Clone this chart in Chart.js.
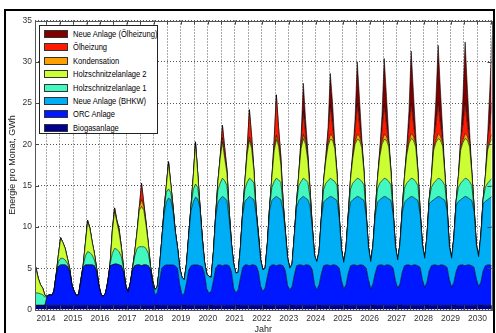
<!DOCTYPE html>
<html>
<head>
<meta charset="utf-8">
<script src="https://cdn.jsdelivr.net/npm/chart.js@4.4.1/dist/chart.umd.min.js"></script>
<style>
  body { margin: 0; background: #fff; }
  #wrap { position: relative; width: 496px; height: 333px; overflow: hidden; }
  #chart { position: absolute; left: 0; top: 0; }
  #frame { position: absolute; left: 4px; top: 9px; width: 491px; height: 340px;
           box-sizing: border-box; border: 2px solid #000; pointer-events: none; }
  #legend { position: absolute; left: 39px; top: 25px; width: 119px; height: 109px;
            box-sizing: border-box; border: 1px solid #222; background: #fff;
            font: 9px "Liberation Sans", Arial, sans-serif; color: #000; }
  .row { position: absolute; left: 4px; height: 10px; line-height: 10px; white-space: nowrap; }
  .sw { position: absolute; left: 0; top: 1px; width: 24px; height: 8px; box-sizing: border-box; border: 1px solid #333; }
  .lb { position: absolute; left: 29px; top: 0; transform: scaleX(0.84); transform-origin: 0 50%; }
</style>
</head>
<body>
<div id="wrap">
  <canvas id="chart" width="496" height="333"></canvas>
  <div id="legend"></div>
  <div id="frame"></div>
</div>
<script>
(function () {
    "use strict";

    // Monthly values, GWh. First month is July 2013, last is July 2030.
    var firstYear = 2013, firstMonth = 6;
    var years = [2014, 2015, 2016, 2017, 2018, 2019, 2020, 2021, 2022, 2023, 2024, 2025, 2026, 2027, 2028, 2029, 2030];

    var biogas = [
        0.5, 0.5, 0.5, 0.5, 0.5, 0.5,
        0.5, 0.5, 0.5, 0.5, 0.5, 0.5, 0.5, 0.5, 0.5, 0.5, 0.5, 0.5,
        0.5, 0.5, 0.5, 0.5, 0.5, 0.5, 0.5, 0.5, 0.5, 0.5, 0.5, 0.5,
        0.5, 0.5, 0.5, 0.5, 0.5, 0.5, 0.5, 0.5, 0.5, 0.5, 0.5, 0.5,
        0.5, 0.5, 0.5, 0.5, 0.5, 0.5, 0.5, 0.5, 0.5, 0.5, 0.5, 0.5,
        0.5, 0.6, 0.5, 0.5, 0.5, 0.5, 0.5, 0.5, 0.5, 0.5, 0.5, 0.5,
        0.5, 0.6, 0.5, 0.5, 0.5, 0.5, 0.5, 0.5, 0.5, 0.5, 0.5, 0.5,
        0.5, 0.6, 0.5, 0.5, 0.5, 0.5, 0.5, 0.5, 0.5, 0.5, 0.5, 0.5,
        0.5, 0.6, 0.5, 0.5, 0.5, 0.5, 0.5, 0.5, 0.5, 0.5, 0.5, 0.5,
        0.5, 0.6, 0.5, 0.5, 0.5, 0.5, 0.5, 0.5, 0.5, 0.5, 0.5, 0.5,
        0.5, 0.6, 0.5, 0.5, 0.5, 0.5, 0.5, 0.5, 0.5, 0.5, 0.5, 0.5,
        0.5, 0.6, 0.5, 0.5, 0.5, 0.5, 0.5, 0.5, 0.5, 0.5, 0.5, 0.5,
        0.5, 0.6, 0.5, 0.5, 0.5, 0.5, 0.5, 0.5, 0.5, 0.5, 0.5, 0.5,
        0.5, 0.6, 0.5, 0.5, 0.5, 0.5, 0.5, 0.5, 0.5, 0.5, 0.5, 0.5,
        0.5, 0.6, 0.5, 0.5, 0.5, 0.5, 0.5, 0.5, 0.5, 0.5, 0.5, 0.5,
        0.5, 0.6, 0.5, 0.5, 0.5, 0.5, 0.5, 0.5, 0.5, 0.5, 0.5, 0.5,
        0.5, 0.6, 0.5, 0.5, 0.5, 0.5, 0.5, 0.5, 0.5, 0.5, 0.5, 0.5,
        0.5, 0.6, 0.5, 0.5, 0.5, 0.5, 0.5
    ];
    var orc = [
        0, 0, 0, 0, 0, 0,
        1.1, 1.3, 1.2, 1.7, 3.7, 4.7, 4.9, 4.9, 4.9, 4.7, 4.1, 2.5,
        1.7, 1.2, 1.3, 2.9, 4.6, 4.9, 4.9, 4.9, 4.9, 4.8, 4.1, 2.4,
        1.3, 1.1, 1.5, 2.9, 4.8, 4.9, 5.0, 5.0, 4.9, 4.8, 4.0, 2.3,
        1.6, 2.7, 4.3, 4.8, 4.9, 4.9, 4.8, 4.9, 4.9, 4.8, 4.3, 2.5,
        1.3, 1.4, 3.0, 4.5, 4.8, 4.9, 4.9, 4.9, 4.9, 4.8, 4.5, 2.5,
        1.3, 1.3, 2.7, 4.3, 4.8, 4.9, 4.9, 4.9, 4.8, 4.7, 3.9, 2.0,
        1.5, 1.6, 3.0, 4.5, 4.9, 4.9, 4.8, 4.9, 4.9, 4.8, 4.1, 2.1,
        1.5, 1.8, 3.3, 4.6, 4.9, 4.9, 4.8, 4.9, 4.9, 4.8, 4.1, 2.3,
        1.7, 2.0, 3.5, 4.7, 4.9, 4.9, 4.8, 4.9, 4.9, 4.8, 4.2, 2.4,
        1.9, 2.2, 3.7, 4.8, 4.9, 4.9, 4.8, 4.9, 4.9, 4.8, 4.3, 2.5,
        1.9, 2.4, 3.8, 4.8, 4.9, 4.9, 4.8, 4.9, 4.9, 4.8, 4.5, 3.0,
        2.0, 2.4, 3.9, 4.8, 4.9, 4.9, 4.8, 4.9, 4.9, 4.8, 4.5, 3.1,
        2.0, 2.5, 3.9, 4.8, 4.9, 4.9, 4.8, 4.9, 4.9, 4.8, 4.5, 3.0,
        2.1, 2.5, 4.0, 4.8, 4.9, 4.9, 4.8, 4.9, 4.9, 4.8, 4.6, 3.1,
        2.2, 2.7, 4.2, 4.8, 4.9, 4.9, 4.8, 4.9, 4.9, 4.8, 4.6, 3.1,
        2.2, 2.7, 4.1, 4.8, 4.9, 4.9, 4.8, 4.9, 4.9, 4.8, 4.6, 3.2,
        2.3, 2.7, 4.2, 4.8, 4.9, 4.9, 4.8
    ];
    var bhkw = [
        0, 0, 0, 0, 0, 0,
        0, 0, 0, 0, 0, 0, 0, 0, 0, 0, 0, 0,
        0, 0, 0, 0, 0, 0, 0, 0, 0, 0, 0, 0,
        0, 0, 0, 0, 0, 0, 0, 0, 0, 0, 0, 0,
        0, 0, 0, 0, 0, 0, 0, 0, 0, 0, 0, 0,
        0.6, 0.8, 1.7, 3.4, 6.2, 7.6, 8.1, 7.9, 6.6, 4.1, 2.5, 2.0,
        2.1, 1.7, 2.3, 4.2, 6.7, 7.6, 8.2, 8.0, 7.0, 3.4, 1.4, 1.8,
        2.0, 1.7, 3.5, 6.2, 7.6, 8.0, 8.4, 8.1, 7.8, 5.7, 3.4, 2.9,
        2.4, 2.1, 3.7, 6.4, 7.7, 8.0, 8.4, 8.1, 7.9, 6.3, 4.2, 3.2,
        2.6, 2.4, 4.0, 6.8, 7.8, 8.1, 8.4, 8.1, 7.9, 6.7, 4.6, 3.3,
        2.6, 2.7, 4.8, 7.1, 7.8, 8.1, 8.4, 8.1, 7.9, 7.2, 5.0, 3.5,
        3.4, 4.0, 6.7, 7.7, 7.9, 8.1, 8.4, 8.2, 8.0, 7.9, 6.0, 3.7,
        3.2, 4.5, 6.8, 7.7, 7.9, 8.1, 8.4, 8.2, 8.0, 7.9, 6.3, 3.9,
        3.3, 4.7, 7.0, 7.7, 7.9, 8.1, 8.4, 8.2, 8.0, 7.9, 6.5, 4.1,
        3.4, 4.8, 7.2, 7.7, 7.9, 8.1, 8.4, 8.2, 8.0, 7.9, 6.4, 4.2,
        3.5, 5.5, 8.1, 7.8, 7.9, 8.1, 8.4, 8.2, 8.0, 7.9, 6.9, 4.0,
        3.5, 5.4, 8.0, 7.8, 7.9, 8.1, 8.4, 8.2, 8.0, 7.9, 6.8, 4.1,
        3.6, 5.6, 8.1, 7.8, 7.9, 8.1, 8.4
    ];
    var holz1 = [
        1.5, 1.5, 1.5, 1.4, 1.3, 1.0,
        0, 0, 0, 0, 0, 0.6, 0.8, 0.8, 0.6, 0.4, 0.2, 0,
        0, 0, 0, 0.2, 0.2, 1.1, 1.6, 1.5, 1.2, 0.7, 0.4, 0,
        0, 0, 0, 0, 0.2, 1.4, 1.9, 1.8, 1.6, 1.1, 0.5, 0,
        0, 0, 0.2, 1.2, 2.0, 2.2, 2.3, 2.2, 2.0, 1.5, 0.4, 0.4,
        0, 0, 0, 0, 0.5, 1.2, 1.1, 0.9, 0.3, 0, 0, 0,
        0, 0, 0, 0, 0.5, 1.5, 1.6, 1.4, 0.2, 0.1, 0, 0,
        0, 0, 0, 0.3, 1.5, 1.9, 2.2, 2.1, 1.8, 0.8, 0, 0,
        0, 0, 0, 0.3, 1.5, 2.0, 2.2, 2.2, 2.0, 0.4, 0.2, 0,
        0, 0, 0, 0.5, 1.6, 2.0, 2.2, 2.2, 2.1, 0.6, 0, 0,
        0, 0, 0, 0.6, 1.8, 2.0, 2.2, 2.2, 2.1, 1.0, 0, 0,
        0, 0, 0, 1.5, 2.0, 2.1, 2.2, 2.1, 2.1, 1.8, 0, 0,
        0, 0, 0.3, 1.6, 2.0, 2.1, 2.2, 2.2, 2.1, 1.9, 0, 0,
        0, 0, 0.4, 1.6, 2.0, 2.1, 2.2, 2.2, 2.1, 1.9, 0.1, 0,
        0, 0, 0.4, 1.7, 2.0, 2.1, 2.2, 2.2, 2.1, 1.8, 0.1, 0,
        0, 0, 0.5, 1.7, 2.0, 2.1, 2.2, 2.2, 2.1, 1.8, 0.1, 0,
        0, 0, 0.5, 1.7, 2.0, 2.1, 2.2, 2.2, 2.1, 1.8, 0.2, 0,
        0, 0, 0.5, 1.7, 2.0, 2.1, 2.2
    ];
    var holz2 = [
        3.3, 2.9, 1.8, 1.1, 0.8, 0.2,
        0, 0, 0, 0, 0, 0.8, 2.4, 1.9, 1.4, 0.6, 0.2, 0,
        0, 0, 0, 0, 0, 1.5, 3.6, 2.9, 1.6, 0.8, 0, 0,
        0, 0, 0, 0, 0, 2.6, 4.5, 3.3, 2.3, 1.1, 0, 0,
        0, 0, 0, 0.5, 2.0, 4.4, 4.9, 4.4, 2.8, 1.2, 0, 0,
        0, 0, 0, 0, 0, 0.7, 3.1, 1.0, 0.2, 0.1, 0, 0,
        0, 0, 0, 0, 0, 1.5, 4.9, 1.7, 0, 0.1, 0, 0,
        0, 0, 0, 0, 1.0, 3.0, 4.4, 2.7, 1.5, 0.2, 0, 0,
        0, 0, 0, 0, 0.9, 3.4, 4.6, 3.8, 1.5, 0, 0.2, 0,
        0, 0, 0, 0, 1.2, 3.7, 4.7, 4.1, 2.1, 0.4, 0.2, 0,
        0, 0, 0, 0, 1.5, 4.0, 4.8, 4.3, 2.6, 0.8, 0.2, 0,
        0, 0, 0, 1.0, 2.7, 4.2, 4.7, 4.8, 4.0, 1.3, 0.2, 0,
        0, 0, 0, 1.2, 3.0, 4.4, 4.7, 4.7, 4.1, 1.5, 0.2, 0,
        0, 0, 0, 1.2, 3.2, 4.4, 4.7, 4.7, 4.2, 1.5, 0.2, 0,
        0, 0, 0, 1.3, 3.4, 4.5, 4.8, 4.7, 4.2, 1.6, 0.3, 0,
        0, 0, 0, 1.2, 4.0, 4.6, 4.8, 4.7, 4.3, 1.3, 0.3, 0,
        0, 0, 0, 1.3, 4.0, 4.6, 4.8, 4.7, 4.2, 1.4, 0.3, 0,
        0, 0, 0, 1.3, 4.0, 4.6, 4.8
    ];
    var kondensation = [
        0.4, 0.2, 0, 0, 0, 0,
        0, 0, 0, 0, 0, 0, 0.1, 0, 0, 0, 0, 0,
        0, 0, 0, 0, 0, 0, 0.2, 0.1, 0, 0, 0, 0,
        0, 0, 0, 0, 0, 0.2, 0.4, 0.2, 0.3, 0.1, 0, 0,
        0, 0, 0, 0, 0, 0.4, 0.8, 0.5, 0.3, 0, 0, 0,
        0, 0, 0, 0, 0, 0, 0.2, 0, 0, 0, 0, 0,
        0, 0, 0, 0, 0, 0, 0.2, 0, 0, 0, 0, 0,
        0, 0, 0, 0, 0, 0.2, 0.5, 0.3, 0.3, 0, 0, 0,
        0, 0, 0, 0, 0, 0.3, 0.4, 0.3, 0.1, 0, 0, 0,
        0, 0, 0, 0, 0, 0.3, 0.5, 0.3, 0.3, 0, 0, 0,
        0, 0, 0, 0, 0, 0.3, 0.5, 0.4, 0.3, 0.2, 0, 0,
        0, 0, 0, 0, 0.1, 0.3, 0.6, 0.5, 0.3, 0.2, 0, 0,
        0, 0, 0, 0, 0.2, 0.3, 0.6, 0.5, 0.4, 0.2, 0, 0,
        0, 0, 0, 0, 0.2, 0.3, 0.6, 0.5, 0.4, 0.2, 0, 0,
        0, 0, 0, 0, 0.2, 0.3, 0.6, 0.5, 0.4, 0.2, 0, 0,
        0, 0, 0, 0, 0.3, 0.3, 0.6, 0.5, 0.4, 0.2, 0, 0,
        0, 0, 0, 0, 0.3, 0.3, 0.6, 0.5, 0.4, 0.2, 0, 0,
        0, 0, 0, 0, 0.3, 0.3, 0.6
    ];
    var oelheizung = [
        0, 0, 0, 0, 0, 0,
        0, 0, 0, 0, 0, 0, 0, 0, 0, 0, 0, 0,
        0, 0, 0, 0, 0, 0, 0, 0, 0, 0, 0, 0,
        0, 0, 0, 0, 0, 0, 0, 0, 0.2, 0, 0, 0,
        0, 0, 0, 0, 0, 0, 2.0, 0.4, 0.1, 0, 0, 0,
        0, 0, 0, 0, 0, 0, 0, 0, 0, 0, 0, 0,
        0, 0, 0, 0, 0, 0, 0, 0, 0, 0, 0, 0,
        0, 0, 0, 0, 0, 0, 1.5, 1.0, 0.2, 0, 0, 0,
        0, 0, 0, 0, 0, 0.4, 3.3, 1.2, 0.1, 0, 0, 0,
        0, 0, 0, 0, 0, 1.0, 4.9, 1.9, 0.7, 0, 0, 0,
        0, 0, 0, 0, 0, 0.8, 2.8, 0.9, 0.3, 0, 0, 0,
        0, 0, 0, 0, 0.4, 1.3, 3.6, 1.3, 0.1, 0, 0, 0,
        0, 0, 0, 0, 0.5, 1.4, 3.8, 1.4, 0.2, 0, 0, 0,
        0, 0, 0, 0, 0.5, 1.5, 3.6, 1.4, 0.2, 0, 0, 0,
        0, 0, 0, 0, 0.6, 1.6, 3.7, 1.5, 0.2, 0, 0, 0,
        0, 0, 0, 0, 1.1, 1.8, 3.8, 1.5, 0.3, 0, 0, 0,
        0, 0, 0, 0, 1.0, 1.8, 3.7, 1.5, 0.3, 0, 0, 0,
        0, 0, 0, 0, 1.1, 1.9, 3.8
    ];
    var neueOel = [
        0, 0, 0, 0, 0, 0,
        0, 0, 0, 0, 0, 0, 0, 0, 0, 0, 0, 0,
        0, 0, 0, 0, 0, 0, 0, 0, 0, 0, 0, 0,
        0, 0, 0, 0, 0, 0, 0, 0, 0, 0, 0, 0,
        0, 0, 0, 0, 0, 0, 0, 0, 0, 0, 0, 0,
        0, 0, 0, 0, 0, 0, 0, 0, 0, 0, 0, 0,
        0, 0, 0, 0, 0, 0, 0, 0, 0, 0, 0, 0,
        0, 0, 0, 0, 0, 0, 0, 0, 0, 0, 0, 0,
        0, 0, 0, 0, 0, 0, 0, 0, 0, 0, 0, 0,
        0, 0, 0, 0, 0, 0, 0, 0, 0, 0, 0, 0,
        0, 0, 0, 0, 0, 0.4, 3.4, 1.7, 0.6, 0, 0, 0,
        0, 0, 0, 0, 0, 0.6, 3.8, 2.7, 0.3, 0, 0, 0,
        0, 0, 0, 0, 0, 1.3, 5.0, 3.1, 0.6, 0, 0, 0,
        0, 0, 0, 0, 0, 1.7, 5.6, 3.4, 0.7, 0, 0, 0,
        0, 0, 0, 0, 0, 2.0, 6.3, 3.7, 1.0, 0, 0, 0,
        0, 0, 0, 0, 0, 3.1, 6.9, 4.1, 1.2, 0, 0, 0,
        0, 0, 0, 0, 0, 3.2, 7.4, 4.3, 1.2, 0, 0, 0,
        0, 0, 0, 0, 0.2, 4.3, 8.0
    ];

    // Stack order, bottom first
    var seriesNames = ["Biogasanlage", "ORC Anlage", "Neue Anlage (BHKW)", "Holzschnitzelanlage 1",
        "Holzschnitzelanlage 2", "Kondensation", "Ölheizung", "Neue Anlage (Ölheizung)"];
    var seriesData = [biogas, orc, bhkw, holz1, holz2, kondensation, oelheizung, neueOel];
    var seriesColors = ["#000090", "#0018ff", "#00aef5", "#40f8c0", "#ccff33", "#ffa000", "#ff1a00", "#800000"];

    // middle of each month, as a decimal year
    function monthPos(i) {
        return firstYear + (firstMonth + i + 0.5) / 12;
    }

    var datasets = seriesData.map(function (values, k) {
        return {
            label: seriesNames[k],
            data: values.map(function (v, i) { return {x: monthPos(i), y: v}; }),
            backgroundColor: seriesColors[k],
            borderColor: "rgba(0,0,0,0.85)",
            borderWidth: 0.7,
            fill: k === 0 ? "origin" : "-1",
            pointRadius: 0,
            tension: 0
        };
    });

    // Legend box, top entry = top of the stack
    var legend = document.getElementById("legend");
    for (var k = seriesNames.length - 1, r = 0; k >= 0; k--, r++) {
        var row = document.createElement("div");
        row.className = "row";
        row.style.top = (3 + r * 13.4) + "px";
        row.innerHTML = '<span class="sw" style="background:' + seriesColors[k] + '"></span><span class="lb"></span>';
        row.querySelector(".lb").textContent = seriesNames[k];
        legend.appendChild(row);
    }

    // Axes box with inward tick marks
    var axesBox = {
        id: "axesBox",
        afterDatasetsDraw: function (chart) {
            var a = chart.chartArea, ctx = chart.ctx;
            ctx.save();
            ctx.strokeStyle = "#444";
            ctx.lineWidth = 1;
            ctx.beginPath();
            chart.scales.x.ticks.forEach(function (t) {
                var px = Math.round(chart.scales.x.getPixelForValue(t.value)) + 0.5;
                ctx.moveTo(px, a.top); ctx.lineTo(px, a.top + 4);
                ctx.moveTo(px, a.bottom); ctx.lineTo(px, a.bottom - 4);
            });
            chart.scales.y.ticks.forEach(function (t) {
                var py = Math.round(chart.scales.y.getPixelForValue(t.value)) + 0.5;
                ctx.moveTo(a.left, py); ctx.lineTo(a.left + 4, py);
                ctx.moveTo(a.right, py); ctx.lineTo(a.right - 4, py);
            });
            ctx.stroke();
            ctx.strokeStyle = "#555";
            ctx.strokeRect(Math.round(a.left) + 0.5, Math.round(a.top) + 0.5,
                Math.round(a.right - a.left), Math.round(a.bottom - a.top));
            ctx.restore();
        }
    };

    var tickFont = {family: "'Liberation Sans', Arial, sans-serif", size: 8.5};
    var titleFont = {family: "'Liberation Sans', Arial, sans-serif", size: 9};

    new Chart(document.getElementById("chart").getContext("2d"), {
        type: "line",
        data: {datasets: datasets},
        options: {
            responsive: false,
            animation: false,
            layout: {padding: {left: 5, right: 4.5, top: 20.5, bottom: 0}},
            plugins: {legend: {display: false}, tooltip: {enabled: false}},
            scales: {
                x: {
                    type: "linear",
                    min: 2013.59,
                    max: 2030.52,
                    afterFit: function (s) { s.height = 23.5; },
                    afterBuildTicks: function (s) {
                        var t = [];
                        years.forEach(function (y) {
                            t.push({value: y});
                            if (y + 0.5 <= 2030.52) t.push({value: y + 0.5});
                        });
                        s.ticks = t;
                    },
                    grid: {color: "#555", lineWidth: 1, drawTicks: false},
                    border: {display: false, dash: [1, 2]},
                    ticks: {
                        autoSkip: false, maxRotation: 0, padding: 4, color: "#333", font: tickFont,
                        callback: function (v) { return Number.isInteger(v) ? String(v) : ""; }
                    },
                    title: {display: true, text: "Jahr", color: "#222", font: titleFont, padding: {top: 0, bottom: -2.4}}
                },
                y: {
                    stacked: true,
                    min: 0,
                    max: 35,
                    afterFit: function (s) { s.width = 30; },
                    grid: {color: "#555", lineWidth: 1, drawTicks: false},
                    border: {display: false, dash: [1, 2]},
                    ticks: {stepSize: 5, padding: 3, color: "#333", font: tickFont},
                    title: {display: true, text: "Energie pro Monat, GWh", color: "#222", font: titleFont, padding: {top: 2.6, bottom: 0}}
                }
            }
        },
        plugins: [axesBox]
    });

})();
</script>
</body>
</html>
